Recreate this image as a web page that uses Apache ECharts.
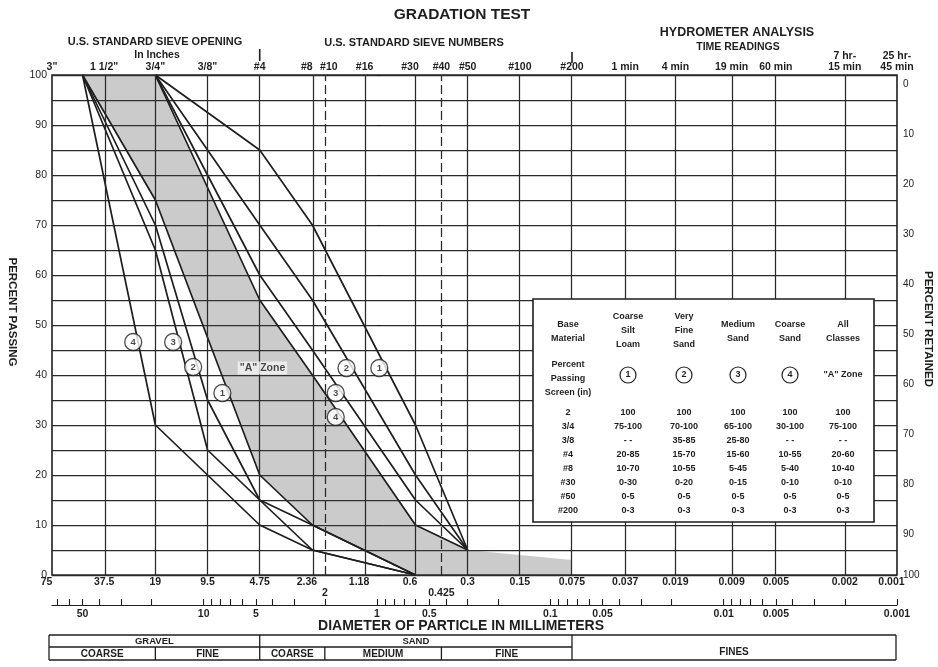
<!DOCTYPE html>
<html><head><meta charset="utf-8">
<script src="https://cdn.jsdelivr.net/npm/echarts@6/dist/echarts.min.js"></script>
<style>html,body{margin:0;padding:0;background:#fff}#c{width:938px;height:667px}</style>
</head><body><div id="c"></div>
<script>
// ---- data ----
const sieveMM = [50, 19, 9.5, 4.75, 2.36, 0.6, 0.3, 0.075];
const lower1 = [100, 75, null, 20, 10, 0, null, null];
const upper1 = [null, 100, null, 85, 70, 30, 5, null];
const lower2 = [100, 70, 35, 15, 10, 0, null, null];
const upper2 = [null, 100, 85, 70, 55, 20, 5, null];
const lower3 = [100, 65, 25, 15, 5, 0, null, null];
const upper3 = [null, 100, 80, 60, 45, 15, 5, null];
const lower4 = [100, 30, null, 10, 5, 0, null, null];
const upper4 = [null, 100, null, 55, 40, 10, 5, null];
const zoneUpper = [100, 100, null, 55, 40, 10, 5, 3];
const zoneLower = [100, 75, null, 20, 10, 0, 0, 0];

const gridMM = [37.5, 19, 9.5, 4.75, 2.36, 2.0, 1.18, 0.6, 0.425, 0.3, 0.15, 0.075, 0.037, 0.019, 0.009, 0.005, 0.002];
const dashedMM = [2.0, 0.425];

const topMM = [75, 37.5, 19, 9.5, 4.75, 2.36, 2.0, 1.18, 0.6, 0.425, 0.3, 0.15, 0.075, 0.037, 0.019, 0.009, 0.005, 0.002, 0.001];
const topLabels = ['3"', '1 1/2"', '3/4"', '3/8"', '#4', '{l|#8}', '{r|#10}', '#16', '{l|#30}', '#40', '#50', '#100', '#200', '1 min', '4 min', '19 min', '60 min', '7 hr-\n15 min', '25 hr-\n45 min'];

const botMM = [75, 37.5, 19, 9.5, 4.75, 2.36, 1.18, 0.6, 0.3, 0.15, 0.075, 0.037, 0.019, 0.009, 0.005, 0.002, 0.001];
const botLabels = ['{l|75}', '37.5', '19', '9.5', '4.75', '{l|2.36}', '{l|1.18}', '{l|0.6}', '0.3', '0.15', '0.075', '0.037', '0.019', '0.009', '0.005', '0.002', '{l|0.001}'];
const botMM2 = [2.0, 0.425];
const botLabels2 = ['2', '0.425'];

const mmTicks = [70, 60, 50, 40, 30, 20, 10, 9, 8, 7, 6, 5, 4, 3, 2, 1, 0.9, 0.8, 0.7, 0.6, 0.5, 0.4, 0.3, 0.2,
  0.1, 0.09, 0.08, 0.07, 0.06, 0.05, 0.04, 0.03, 0.02, 0.01, 0.009, 0.008, 0.007, 0.006, 0.005, 0.004, 0.003, 0.002, 0.001];
const mmLabelVals = [50, 10, 5, 1, 0.5, 0.1, 0.05, 0.01, 0.005, 0.001];

const markerLabels = ['4', '3', '2', '1', '2', '1', '3', '4'];
const markerMM = [25.5, 15.0, 11.5, 7.8, 1.5, 0.97, 1.73, 1.73];
const markerPct = [46.6, 46.6, 41.6, 36.4, 41.4, 41.4, 36.4, 31.6];
const zoneLabelPos = [4.58, 41.4];

const legendHeads = [['Base', 'Material'], ['Coarse', 'Silt', 'Loam'], ['Very', 'Fine', 'Sand'], ['Medium', 'Sand'], ['Coarse', 'Sand'], ['All', 'Classes']];
const legendSymbols = ['1', '2', '3', '4'];
const legendRowLabels = ['2', '3/4', '3/8', '#4', '#8', '#30', '#50', '#200'];
const legendRows = [
  ['100', '100', '100', '100', '100'],
  ['75-100', '70-100', '65-100', '30-100', '75-100'],
  ['- -', '35-85', '25-80', '- -', '- -'],
  ['20-85', '15-70', '15-60', '10-55', '20-60'],
  ['10-70', '10-55', '5-45', '5-40', '10-40'],
  ['0-30', '0-20', '0-15', '0-10', '0-10'],
  ['0-5', '0-5', '0-5', '0-5', '0-5'],
  ['0-3', '0-3', '0-3', '0-3', '0-3']
];

// ---- chart ----
const FONT = "'Liberation Sans', Arial, sans-serif";
const INK = '#1e1e1e';
const L = v => Math.log10(v);
const XMIN = L(0.001), XMAX = L(75);

function pairs(vals) { const out = []; vals.forEach((v, i) => { if (v !== null) out.push([L(sieveMM[i]), v]); }); return out; }
function lookup(vals, labels) {
  return function (v) { for (let i = 0; i < vals.length; i++) { if (Math.abs(L(vals[i]) - v) < 1e-6) return labels[i]; } return ''; };
}
const lblBase = { fontSize: 10.5, fontWeight: 'bold', color: INK, fontFamily: FONT };
const shiftRich = { l: Object.assign({ padding: [0, 11, 0, 0] }, lblBase), r: Object.assign({ padding: [0, 0, 0, 8] }, lblBase) };

const chart = echarts.init(document.getElementById('c'), null, { renderer: 'canvas' });
const lineStyle = { color: INK, width: 1.7 };
const bandSeries = [lower1, upper1, lower2, upper2, lower3, upper3, lower4, upper4].map(vals => ({
  type: 'line', data: pairs(vals), symbol: 'none', lineStyle, z: 3, silent: true, animation: false
}));
const rLbl = { fontSize: 10, color: INK, fontFamily: FONT };

const option = {
  animation: false,
  backgroundColor: '#fff',
  grid: [
    { left: 52, top: 75, width: 845, height: 500, show: true, borderColor: INK, borderWidth: 1.6, backgroundColor: 'transparent' },
    { left: 52, top: 600, width: 845, height: 5 }
  ],
  xAxis: [
    { gridIndex: 0, type: 'value', min: XMIN, max: XMAX, inverse: true, position: 'bottom',
      axisLine: { show: false }, axisTick: { show: false }, splitLine: { show: false },
      axisLabel: Object.assign({ customValues: botMM.map(L), formatter: lookup(botMM, botLabels), margin: 2, rich: shiftRich }, lblBase) },
    { gridIndex: 0, type: 'value', min: XMIN, max: XMAX, inverse: true, position: 'top',
      axisLine: { show: false }, axisTick: { show: false }, splitLine: { show: false },
      axisLabel: Object.assign({ customValues: topMM.map(L), formatter: lookup(topMM, topLabels), margin: 2, lineHeight: 11, rich: shiftRich }, lblBase) },
    { gridIndex: 0, type: 'value', min: XMIN, max: XMAX, inverse: true, position: 'bottom', offset: 10,
      axisLine: { show: false }, axisTick: { show: false }, splitLine: { show: false },
      axisLabel: Object.assign({ customValues: botMM2.map(L), formatter: lookup(botMM2, botLabels2), margin: 3 }, lblBase) },
    { gridIndex: 1, type: 'value', min: XMIN, max: XMAX, inverse: true, position: 'bottom',
      axisLine: { show: true, lineStyle: { color: INK, width: 1.2 } },
      axisTick: { show: true, inside: true, length: 6, customValues: mmTicks.map(L), lineStyle: { color: INK, width: 1.1 } },
      splitLine: { show: false },
      axisLabel: Object.assign({ customValues: mmLabelVals.map(L), formatter: lookup(mmLabelVals, mmLabelVals.map(String)), margin: 4 }, lblBase) }
  ],
  yAxis: [
    { gridIndex: 0, type: 'value', min: 0, max: 100, interval: 5, position: 'left',
      axisLine: { show: false }, axisTick: { show: false },
      splitLine: { show: true, lineStyle: { color: '#2a2a2a', width: 1.25 } },
      axisLabel: { formatter: v => (v % 10 === 0 ? String(v) : ''), fontSize: 10.5, color: INK, fontFamily: FONT, margin: 5 } },
    { gridIndex: 0, type: 'value', min: 0, max: 100, interval: 10, inverse: true, position: 'right',
      axisLine: { show: false }, axisTick: { show: true, length: 4, lineStyle: { color: INK } }, splitLine: { show: false },
      axisLabel: { margin: 6, formatter: v => (v === 100 ? '{b|100}' : '{n|' + v + '}'),
        rich: { n: Object.assign({ padding: [18, 0, 0, 0] }, rLbl), b: Object.assign({ padding: [0, 0, 0, 0] }, rLbl) } } },
    { gridIndex: 1, type: 'value', show: false, min: 0, max: 1 }
  ],
  series: [
    { type: 'custom', z: 1, silent: true, coordinateSystem: 'cartesian2d', xAxisIndex: 0, yAxisIndex: 0, data: [[0, 50]],
      renderItem: function (params, api) {
        const pts = [];
        zoneUpper.forEach((v, i) => { if (v !== null) pts.push(api.coord([L(sieveMM[i]), v])); });
        for (let i = sieveMM.length - 1; i >= 0; i--) { if (zoneLower[i] !== null) pts.push(api.coord([L(sieveMM[i]), zoneLower[i]])); }
        return { type: 'polygon', shape: { points: pts }, style: { fill: 'rgba(70,70,70,0.28)' } };
      } },
    { type: 'line', data: [], xAxisIndex: 0, yAxisIndex: 0, z: 2,
      markLine: { silent: true, symbol: ['none', 'none'], animation: false, label: { show: false },
        lineStyle: { color: '#2a2a2a', width: 1.25, type: 'solid' },
        data: gridMM.map(v => dashedMM.includes(v)
          ? { xAxis: L(v), lineStyle: { color: '#2a2a2a', width: 1.25, type: [9, 4] } }
          : { xAxis: L(v) }) } },
    ...bandSeries,
    { type: 'scatter', z: 6, silent: true, symbol: 'circle', symbolSize: 17,
      itemStyle: { color: '#fff', borderColor: INK, borderWidth: 1.3 },
      label: { show: true, position: 'inside', fontSize: 9.5, fontWeight: 'bold', color: INK, fontFamily: FONT },
      data: markerMM.map((m, i) => ({ value: [L(m), markerPct[i]], label: { formatter: markerLabels[i] } })) },
    { type: 'scatter', z: 6, silent: true, symbolSize: 1, itemStyle: { color: 'transparent' },
      label: { show: true, position: 'inside', formatter: '"A" Zone', fontSize: 10.5, fontWeight: 'bold', color: INK, fontFamily: FONT, backgroundColor: '#f2f2f2', padding: [1, 2] },
      data: [[L(zoneLabelPos[0]), zoneLabelPos[1]]] }
  ]
};
chart.setOption(option);

// ---- annotations via the chart's own scales ----
const X = v => chart.convertToPixel({ xAxisIndex: 0 }, L(v));
const Y = p => chart.convertToPixel({ yAxisIndex: 0 }, p);
function txt(text, x, y, size, weight, extra) {
  return Object.assign({ type: 'text', x: x, y: y, z: 100, silent: true,
    style: { text: text, fill: INK, font: (weight || 'bold') + ' ' + size + 'px ' + FONT,
      align: 'center', verticalAlign: 'middle', textAlign: 'center', textVerticalAlign: 'middle' } }, extra || {});
}
function ln(x1, y1, x2, y2, w) {
  return { type: 'line', z: 100, silent: true, shape: { x1: x1, y1: y1, x2: x2, y2: y2 }, style: { stroke: INK, lineWidth: w || 1.3 } };
}
const g = [];
const plotL = X(75), plotR = X(0.001), plotT = Y(100), plotB = Y(0);
g.push(txt('GRADATION TEST', 462, 15, 15.5));
g.push(txt('U.S. STANDARD SIEVE OPENING', 155, 42, 11));
g.push(txt('In Inches', 157, 55, 10.5));
g.push(txt('U.S. STANDARD SIEVE NUMBERS', 414, 43, 11));
g.push(txt('HYDROMETER ANALYSIS', 737, 33, 12.5));
g.push(txt('TIME READINGS', 738, 47, 10.5));
g.push(txt('PERCENT PASSING', 12, 312, 11.5, 'bold', { rotation: -Math.PI / 2 }));
g.push(txt('PERCENT RETAINED', 928, 329, 11.5, 'bold', { rotation: -Math.PI / 2 }));
g.push(txt('DIAMETER OF PARTICLE IN MILLIMETERS', 461, 626, 14));
// section separators above the plot
g.push(ln(X(4.75), 49, X(4.75), 61, 1.6));
g.push(ln(X(0.075), 52, X(0.075), 63, 1.6));
// soil classification table
const tL = plotL - 3, tR = plotR - 1, tT = 635, tM = 647, tB = 660;
const x19 = X(19), x475 = X(4.75), x2 = X(2.0), x0425 = X(0.425), x0075 = X(0.075);
g.push(ln(tL, tT, tR, tT), ln(tL, tM, x0075, tM), ln(tL, tB, tR, tB));
g.push(ln(tL, tT, tL, tB), ln(tR, tT, tR, tB), ln(x0075, tT, x0075, tB), ln(x475, tT, x475, tB));
g.push(ln(x19, tM, x19, tB), ln(x2, tM, x2, tB), ln(x0425, tM, x0425, tB));
g.push(txt('GRAVEL', (tL + x475) / 2, 641.5, 9.5), txt('SAND', (x475 + x0075) / 2, 641.5, 9.5));
g.push(txt('COARSE', (tL + x19) / 2, 654, 10), txt('FINE', (x19 + x475) / 2, 654, 10),
  txt('COARSE', (x475 + x2) / 2, 654, 10), txt('MEDIUM', (x2 + x0425) / 2, 654, 10),
  txt('FINE', (x0425 + x0075) / 2, 654, 10), txt('FINES', (x0075 + tR) / 2, 652, 10));
// legend box
g.push({ type: 'rect', z: 90, silent: true, shape: { x: 533, y: 299, width: 341, height: 223 }, style: { fill: '#fff', stroke: INK, lineWidth: 1.6 } });
const colX = [568, 628, 684, 738, 790, 843];
legendHeads.forEach((lines, c) => {
  const n = lines.length, y0 = n === 3 ? 317 : 325;
  lines.forEach((t, k) => g.push(txt(t, colX[c], y0 + k * 14, 9)));
});
['Percent', 'Passing', 'Screen (in)'].forEach((t, k) => g.push(txt(t, colX[0], 365 + k * 14, 9)));
legendSymbols.forEach((s, c) => {
  g.push({ type: 'circle', z: 100, silent: true, shape: { cx: colX[c + 1], cy: 375, r: 8 }, style: { fill: '#fff', stroke: INK, lineWidth: 1.2 } });
  g.push(txt(s, colX[c + 1], 375, 9));
});
g.push(txt('"A" Zone', colX[5], 375, 9));
legendRowLabels.forEach((t, r) => {
  const y = 413 + r * 13.9;
  g.push(txt(t, colX[0], y, 9));
  legendRows[r].forEach((v, c) => g.push(txt(v, colX[c + 1], y, 9)));
});
chart.setOption({ graphic: { elements: g } });
</script></body></html>
